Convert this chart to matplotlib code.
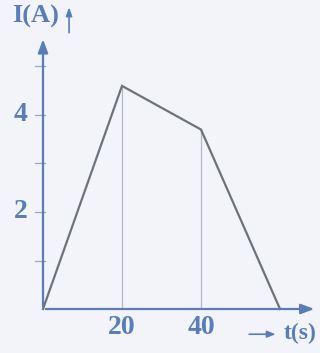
import matplotlib
matplotlib.use("Agg")
import matplotlib.pyplot as plt

# current vs time
t = [0, 20, 40, 60]
current = [0, 4.6, 3.7, 0]
y_ticks = [1, 2, 3, 4, 5]
y_labels = {2: "2", 4: "4"}
x_labels = [20, 40]

axis_col = "#5a7db8"
line_col = "#6e727c"
bg = "#f2f4fa"

fig = plt.figure(figsize=(3.2, 3.53), dpi=100, facecolor=bg)
ax = fig.add_axes([0, 0, 1, 1])
ax.set_facecolor(bg)
ax.axis("off")
# pixel mapping: origin at (43, 309), 20 s = 79 px, 1 A = 48.5 px
ax.set_xlim(-43 / 3.95, (320 - 43) / 3.95)
ax.set_ylim(-(353 - 309) / 48.5, 309 / 48.5)

font = dict(family=["Liberation Serif", "DejaVu Serif"], fontweight="bold", color=axis_col)

# axes with arrows
ax.annotate("", xy=(0, 5.62), xytext=(0, 0),
            arrowprops=dict(arrowstyle="-|>,head_length=0.8,head_width=0.3", color=axis_col, lw=1.6))
ax.annotate("", xy=(69.4, 0), xytext=(0, 0),
            arrowprops=dict(arrowstyle="-|>,head_length=0.8,head_width=0.3", color=axis_col, lw=1.6))

# small ticks on the current axis
for yt in y_ticks:
    ax.plot([-1.9, 0.4], [yt, yt], color="#9aa6c0", lw=0.9)
for yt, lab in y_labels.items():
    ax.text(-5.7, yt, lab, ha="center", va="center", fontsize=20, **font)
for xt in x_labels:
    ax.text(xt, -0.38, str(xt), ha="center", va="center", fontsize=20, **font)

# guide lines down from the corners
for ti, ci in zip(t[1:3], current[1:3]):
    ax.plot([ti, ti], [0, ci], color="#b4b7c0", lw=0.9)

ax.plot(t, current, color=line_col, lw=1.6, solid_joinstyle="miter")

# axis titles
ax.text(-7.7, 6.03, "I(A)", ha="left", va="center", fontsize=19, **font)
ax.annotate("", xy=(6.6, 6.28), xytext=(6.6, 5.64),
            arrowprops=dict(arrowstyle="-|>,head_length=0.5,head_width=0.18", color=axis_col, lw=1.2))
ax.annotate("", xy=(59.6, -0.52), xytext=(51.5, -0.52),
            arrowprops=dict(arrowstyle="-|>,head_length=0.5,head_width=0.2", color=axis_col, lw=1.2))
ax.text(69.3, -0.5, "t(s)", ha="right", va="center", fontsize=17, **font)

fig.savefig("out.png", dpi=100, facecolor=bg)
